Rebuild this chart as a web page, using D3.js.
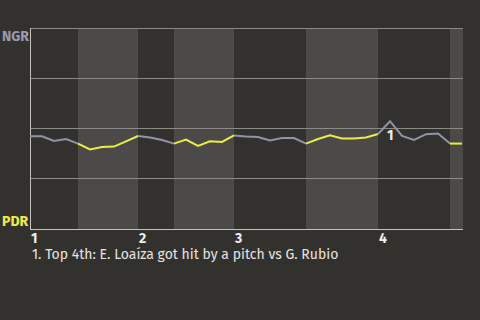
<!DOCTYPE html>
<html>
<head>
<meta charset="utf-8">
<script src="https://cdn.jsdelivr.net/npm/d3@7"></script>
<style>
  html, body { margin: 0; padding: 0; background: #33312e; }
  svg { display: block; font-family: "Fira Sans", "Open Sans", "Noto Sans", sans-serif; }
</style>
</head>
<body>
<div id="main"></div>
<script>
// win probability for the home side at the top (NGR), one value per plate appearance
const winProb = [45.9, 45.9, 43.5, 44.5, 42.2, 39.3, 40.5, 40.7, 43.3, 46.0,
    45.3, 44.0, 42.2, 44.2, 41.0, 43.4, 43.0, 46.3, 45.8, 45.5,
    43.8, 45.0, 45.0, 42.2, 44.5, 46.3, 44.8, 44.8, 45.3, 47.0,
    53.4, 46.0, 44.0, 46.9, 47.2, 42.2, 42.2];
// index where each half-inning starts (top 1, bottom 1, top 2, ...)
const halfStarts = [0, 4, 9, 12, 17, 23, 29, 35];
const innings = ["1", "2", "3", "4"];
const teams = ["NGR", "PDR"];
const noteIdx = [30];
const noteText = ["1. Top 4th: E. Loaíza got hit by a pitch vs G. Rubio"];
const gridTicks = [25, 50, 75, 100];

const width = 480, height = 320;
const padding = {top: 28, left: 30, right: 17, bottom: 92};
const colors = {top: "#9392a8", bottom: "#ecec45", band: "#4c4a48"};

const svg = d3.select("#main").append("svg")
    .attr("width", width).attr("height", height);

const xScale = d3.scaleLinear().domain([0, winProb.length - 1])
    .range([padding.left, width - padding.right - 1]);
const yScale = d3.scaleLinear().domain([0, 100])
    .range([height - padding.bottom, padding.top]);
const xEnd = width - padding.right;
const yBottom = height - padding.bottom;

// shaded bands for bottom halves
const bands = [];
for (let k = 1; k < halfStarts.length; k += 2) {
    const x0 = xScale(halfStarts[k]);
    const x1 = k + 1 < halfStarts.length ? xScale(halfStarts[k + 1]) : xEnd;
    bands.push([x0, x1]);
}
svg.selectAll("rect.band").data(bands).enter().append("rect")
    .attr("class", "band")
    .attr("x", d => d[0]).attr("y", padding.top)
    .attr("width", d => d[1] - d[0]).attr("height", yBottom - padding.top + 1)
    .attr("fill", colors.band);

// gridlines
svg.selectAll("line.grid").data(gridTicks).enter().append("line")
    .attr("class", "grid")
    .attr("x1", padding.left).attr("x2", xEnd)
    .attr("y1", d => Math.round(yScale(d)) + 0.5).attr("y2", d => Math.round(yScale(d)) + 0.5)
    .attr("stroke", "#8c8b88").attr("stroke-width", 1);

// axes
svg.append("line")
    .attr("x1", padding.left + 0.5).attr("x2", padding.left + 0.5)
    .attr("y1", padding.top).attr("y2", yBottom + 2)
    .attr("stroke", "#c4c3c0");
svg.append("line")
    .attr("x1", padding.left).attr("x2", xEnd)
    .attr("y1", yBottom + 1.5).attr("y2", yBottom + 1.5)
    .attr("stroke", "#c4c3c0");

// team labels
svg.append("text").attr("x", 2).attr("y", 41).text(teams[0])
    .attr("fill", "#9a99ad").attr("font-weight", "bold").attr("font-size", 14);
svg.append("text").attr("x", 2).attr("y", 226).text(teams[1])
    .attr("fill", colors.bottom).attr("font-weight", "bold").attr("font-size", 14);

// win probability line, coloured by the batting side
const line = d3.line().x(d => xScale(d.i)).y(d => yScale(d.v));
const segments = [];
for (let k = 0; k < halfStarts.length; k++) {
    const s = halfStarts[k];
    const e = k + 1 < halfStarts.length ? halfStarts[k + 1] : winProb.length - 1;
    const pts = [];
    for (let i = s; i <= e; i++) pts.push({i: i, v: winProb[i]});
    segments.push({pts: pts, top: k % 2 === 0});
}
svg.selectAll("path.wp").data(segments).enter().append("path")
    .attr("class", "wp")
    .attr("d", d => line(d.pts))
    .attr("fill", "none")
    .attr("stroke", d => d.top ? colors.top : colors.bottom)
    .attr("stroke-width", 2)
    .attr("stroke-linejoin", "miter");

// inning labels
svg.selectAll("text.inning").data(innings).enter().append("text")
    .attr("class", "inning")
    .attr("x", (d, i) => xScale(halfStarts[i * 2]) + 1)
    .attr("y", 243)
    .attr("fill", "#eeeeee").attr("font-weight", "bold").attr("font-size", 14)
    .text(d => d);

// event notes
svg.selectAll("text.note").data(noteIdx).enter().append("text")
    .attr("class", "note")
    .attr("x", d => xScale(d) - 3)
    .attr("y", d => yScale(winProb[d]) + 19)
    .attr("fill", "#eeeeee").attr("font-weight", "bold").attr("font-size", 14)
    .text((d, i) => i + 1);
svg.selectAll("text.caption").data(noteText).enter().append("text")
    .attr("class", "caption")
    .attr("x", 32).attr("y", 259)
    .attr("fill", "#e4e3e0").attr("font-size", 14)
    .text(d => d);
</script>
</body>
</html>
